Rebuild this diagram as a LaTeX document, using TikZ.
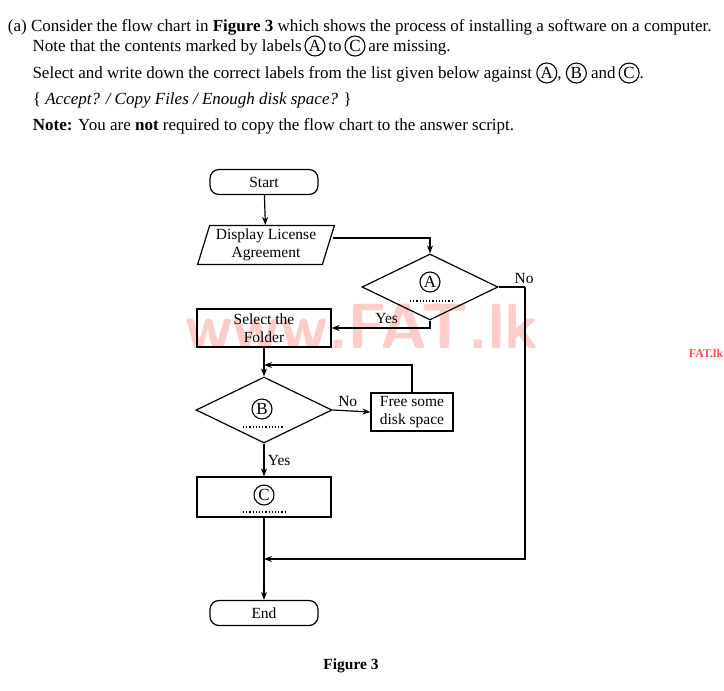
\documentclass[tikz,border=0pt]{standalone}
\usepackage{fontspec}
\setmainfont{Liberation Serif}
\usetikzlibrary{shapes.geometric,arrows.meta}
\newcommand{\circl}[1]{\tikz[baseline=(c.base)]\node[circle,draw,line width=1.1pt,inner sep=1pt,minimum size=20pt](c){#1};}
\begin{document}
\begin{tikzpicture}[x=1pt,y=-1pt,font=\fontsize{17}{19}\selectfont,line width=1.2pt,
 box/.style={draw,minimum width=134pt,minimum height=38pt,align=center,font=\fontsize{15.5}{17.5}\selectfont},
 term/.style={draw,rounded corners=9pt,minimum width=108pt,minimum height=25pt,font=\fontsize{15.5}{17.5}\selectfont},
 dia/.style={draw,diamond,aspect=2.1,minimum width=136pt,minimum height=66pt,inner sep=0pt},
 arr/.style={-{Stealth[length=8pt]}},
 ln/.style={},
 lab/.style={font=\fontsize{15.5}{17.5}\selectfont}]
\useasboundingbox (0,0) rectangle (724,691);
\node[text=red!20,font=\fontsize{64}{66}\sffamily\bfseries] (wm) at (362,326) {www.FAT.lk};
\node[text=red!70,font=\fontsize{12}{14}\bfseries] (wm2) at (706,353) {FAT.lk};
\node[anchor=west] (t1) at (4,27) {(a) Consider the flow chart in \textbf{Figure 3} which shows the process of installing a software on a computer.};
\node[anchor=west] (t2) at (29,46) {Note that the contents marked by labels\,\circl{A}\,to\,\circl{C}\,are missing.};
\node[anchor=west] (t3) at (29,73) {Select and write down the correct labels from the list given below against \circl{A}, \circl{B} and\,\circl{C}.};
\node[anchor=west] (t4) at (29,100) {\{ \textit{Accept? / Copy Files / Enough disk space?} \}};
\node[anchor=west] (t5) at (29,126) {\textbf{Note:} You are \textbf{not} required to copy the flow chart to the answer script.};

\node[term] (start) at (264,182) {Start};
\node[draw,trapezium,trapezium left angle=72,trapezium right angle=108,minimum width=137pt,minimum height=39pt,align=center,inner sep=1pt,trapezium stretches=true,font=\fontsize{15.5}{17.5}\selectfont] (disp) at (266,245) {Display License\\Agreement};
\node[dia] (A) at (430,287) {};
\node (Ac) at (430,282) {\circl{A}};
\draw[dotted] (410,301) -- (452,301);
\node[box] (sel) at (264,328) {Select the\\Folder};
\node[dia] (B) at (264,410) {};
\node (Bc) at (262,409) {\circl{B}};
\draw[dotted] (243,427) -- (284,427);
\node[draw,minimum width=82pt,minimum height=38pt,align=center,font=\fontsize{15.5}{17.5}\selectfont] (free) at (412,412) {Free some\\disk space};
\node[box,minimum height=40pt] (C) at (264,497) {};
\node (Cc) at (264,495) {\circl{C}};
\draw[dotted] (243,512) -- (285,512);
\node[term] (end) at (264,613) {End};
\node[font=\fontsize{15.5}{17.5}\selectfont\bfseries] (fig) at (351,666) {Figure 3};

\coordinate (m1) at (264,365);
\coordinate (m2) at (264,559);
\coordinate (nr) at (525,287);
\draw[arr] (start) -- (disp);
\draw[arr] (333,238) -| (A.north);
\draw[arr] (A.south) |- (sel.east) node[pos=0.72,above,lab] {Yes};
\draw[ln] (A.east) -- (nr) node[pos=0.5,above right=-1pt,lab] {No};
\draw[arr] (nr) |- (m2);
\draw[arr] (sel) -- (B.north);
\draw[arr] (free.north) |- (m1);
\draw[arr] (B.east) -- (free.west) node[pos=0.4,above,lab] {No};
\draw[arr] (B.south) -- (C.north) node[midway,right,lab] {Yes};
\draw[arr] (C.south) -- (end.north);
\end{tikzpicture}
\end{document}
